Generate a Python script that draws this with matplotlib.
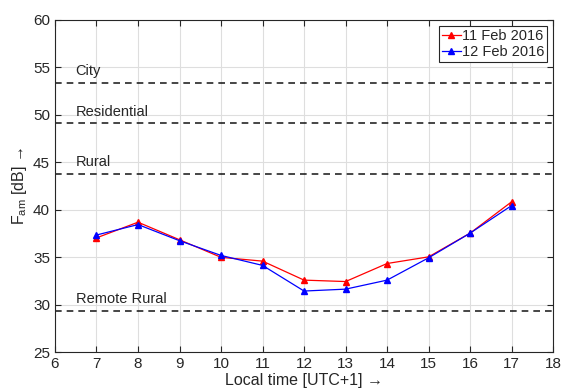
import numpy as np
import matplotlib
matplotlib.use('Agg')
import matplotlib.pyplot as plt

plt.rcParams['font.family'] = ['Liberation Sans', 'DejaVu Sans']
plt.rcParams['mathtext.fontset'] = 'custom'
plt.rcParams['mathtext.rm'] = 'Liberation Sans'
plt.rcParams['mathtext.it'] = 'Liberation Sans'

# Hourly noise figure values
hours = [7, 8, 9, 10, 11, 12, 13, 14, 15, 16, 17]
fam_11feb = [37.05, 38.7, 36.85, 35.0, 34.6, 32.6, 32.45, 34.35, 35.05, 37.55, 40.85]
fam_12feb = [37.35, 38.45, 36.75, 35.2, 34.15, 31.45, 31.65, 32.6, 34.95, 37.55, 40.45]
series_labels = ['11 Feb 2016', '12 Feb 2016']

# Reference environment levels (dB)
env_names = ['City', 'Residential', 'Rural', 'Remote Rural']
env_levels = [53.4, 49.1, 43.8, 29.4]

txt = (0.15, 0.15, 0.15)

fig = plt.figure(figsize=(5.61, 3.91), dpi=100)
ax = fig.add_axes([0.098, 0.099, 0.888, 0.85])

ax.plot(hours, fam_11feb, '-^', color='red', lw=0.9, ms=4, label=series_labels[0])
ax.plot(hours, fam_12feb, '-^', color='blue', lw=0.9, ms=4, label=series_labels[1])

for name, lev in zip(env_names, env_levels):
    ax.axhline(lev, color='black', ls=(0, (4, 3)), lw=1.2, alpha=0.85)
    ax.text(6.5, lev + 1.25, name, fontsize=10.5, color=txt, va='center', ha='left')

ax.set_xlim(6, 18)
ax.set_ylim(25, 60)
ax.set_xticks(np.arange(6, 19, 1))
ax.set_yticks(np.arange(25, 61, 5))
ax.grid(True, color=(0.87, 0.87, 0.87), lw=0.8)
ax.set_axisbelow(True)
ax.tick_params(direction='in', top=True, right=True, labelsize=11,
               colors=txt, length=4)
for sp in ax.spines.values():
    sp.set_color(txt)
    sp.set_linewidth(0.8)

ax.set_xlabel('Local time [UTC+1] \u2192', fontsize=11.5, color=txt, labelpad=1)
ax.set_ylabel('F$_{\\mathrm{am}}$ [dB] \u2192', fontsize=11.5, color=txt, labelpad=3)

leg = ax.legend(loc='upper right', fontsize=10.5, fancybox=False, framealpha=1,
                edgecolor=txt, handlelength=1.3, handletextpad=0.1,
                borderpad=0.2, labelspacing=0.15, borderaxespad=0.4)
leg.get_frame().set_linewidth(0.8)
for t in leg.get_texts():
    t.set_color(txt)

fig.savefig('out.png', dpi=100)
